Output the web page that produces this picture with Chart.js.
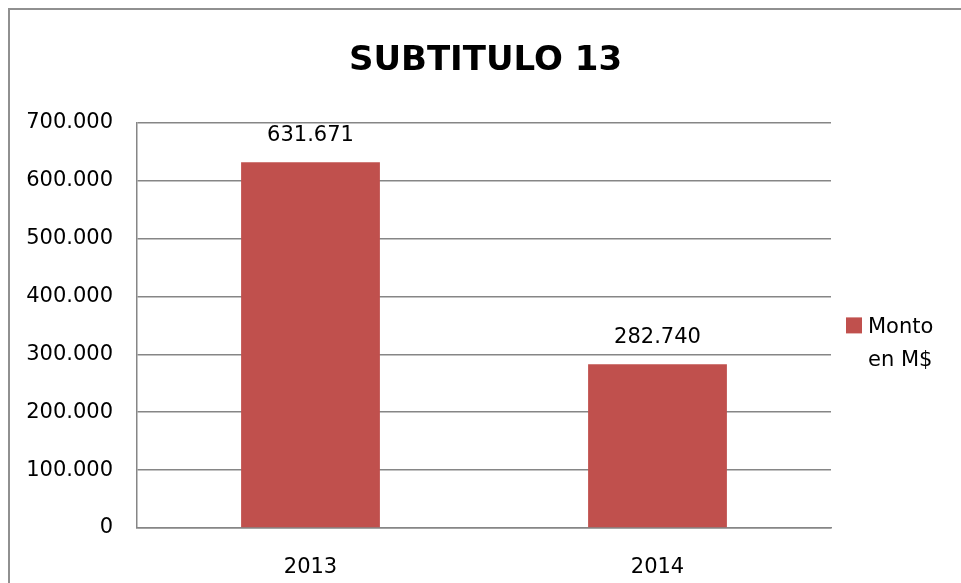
<!DOCTYPE html>
<html>
<head>
<meta charset="utf-8">
<script src="https://cdn.jsdelivr.net/npm/chart.js@4"></script>
<style>
  html, body { margin: 0; padding: 0; background: #fff; }
  #wrap { position: relative; width: 961px; height: 583px; overflow: hidden; background: #fff; }
  #frame { position: absolute; left: 8px; top: 8px; width: 2000px; height: 2000px; border: 2px solid #909090; pointer-events: none; }
  canvas { position: absolute; left: 0; top: 0; }
</style>
</head>
<body>
<div id="wrap">
  <canvas id="c" width="961" height="583"></canvas>
  <div id="frame"></div>
</div>
<script>
const titleText = 'SUBTITULO 13';
const categories = ['2013', '2014'];
const seriesName = ['Monto', 'en M$'];
const montoValues = [631671, 282740];
const yTickMin = 0;
const yTickMax = 700000;
const yTickStep = 100000;

const BAR_COLOR = '#C0504D';
const GRID_COLOR = '#868686';
const TEXT_COLOR = '#000000';
const FONT = '"DejaVu Sans", Verdana, sans-serif';

function fmt(v) {
  return String(Math.round(v)).replace(/\B(?=(\d{3})+(?!\d))/g, '.');
}

const valueLabels = {
  id: 'valueLabels',
  afterDatasetsDraw(chart) {
    const ctx = chart.ctx;
    const meta = chart.getDatasetMeta(0);
    ctx.save();
    ctx.font = '21px ' + FONT;
    ctx.fillStyle = TEXT_COLOR;
    ctx.textAlign = 'center';
    ctx.textBaseline = 'middle';
    meta.data.forEach((bar, i) => {
      ctx.fillText(fmt(chart.data.datasets[0].data[i]), bar.x, bar.y - 27);
    });
    ctx.restore();
  }
};

const sideLegend = {
  id: 'sideLegend',
  afterDraw(chart) {
    const ctx = chart.ctx;
    const a = chart.chartArea;
    const mid = (a.top + a.bottom) / 2;
    const x = a.right + 15;
    ctx.save();
    ctx.fillStyle = BAR_COLOR;
    ctx.fillRect(x, mid - 8, 16, 16);
    ctx.font = '21px ' + FONT;
    ctx.fillStyle = TEXT_COLOR;
    ctx.textAlign = 'left';
    ctx.textBaseline = 'alphabetic';
    ctx.fillText(seriesName[0], x + 22, mid + 8);
    ctx.fillText(seriesName[1], x + 22, mid + 41);
    ctx.restore();
  }
};

new Chart(document.getElementById('c'), {
  type: 'bar',
  data: {
    labels: categories,
    datasets: [{
      label: seriesName.join(' '),
      data: montoValues,
      backgroundColor: BAR_COLOR,
      borderWidth: 0,
      categoryPercentage: 1.0,
      barPercentage: 0.4,
      yAxisID: 'y'
    }]
  },
  options: {
    responsive: false,
    animation: false,
    devicePixelRatio: 1,
    layout: { padding: { left: 10, right: 0, top: 0, bottom: 0 } },
    plugins: {
      legend: { display: false },
      tooltip: { enabled: false },
      title: {
        display: true,
        text: titleText,
        color: '#000',
        font: { family: FONT, size: 34, weight: 'bold' },
        padding: { top: 41, bottom: 41 }
      }
    },
    scales: {
      x: {
        grid: { display: false, drawTicks: false },
        border: { display: true, color: GRID_COLOR, width: 1.5 },
        ticks: { color: TEXT_COLOR, font: { family: FONT, size: 21 }, padding: 27 },
        afterFit(scale) { scale.height = 55; }
      },
      y: {
        position: 'left',
        min: yTickMin,
        max: yTickMax,
        ticks: {
          stepSize: yTickStep,
          color: TEXT_COLOR,
          font: { family: FONT, size: 21 },
          padding: 24,
          callback: (v) => fmt(v)
        },
        grid: { color: GRID_COLOR, lineWidth: 1.5, drawTicks: false },
        border: { display: true, color: GRID_COLOR, width: 1.5 },
        afterFit(scale) { scale.width = 127; }
      },
      legendSpace: {
        position: 'right',
        display: true,
        min: 0,
        max: 1,
        grid: { display: false, drawTicks: false },
        border: { display: false },
        ticks: { display: false },
        afterFit(scale) { scale.width = 130; }
      }
    }
  },
  plugins: [valueLabels, sideLegend]
});
</script>
</body>
</html>
